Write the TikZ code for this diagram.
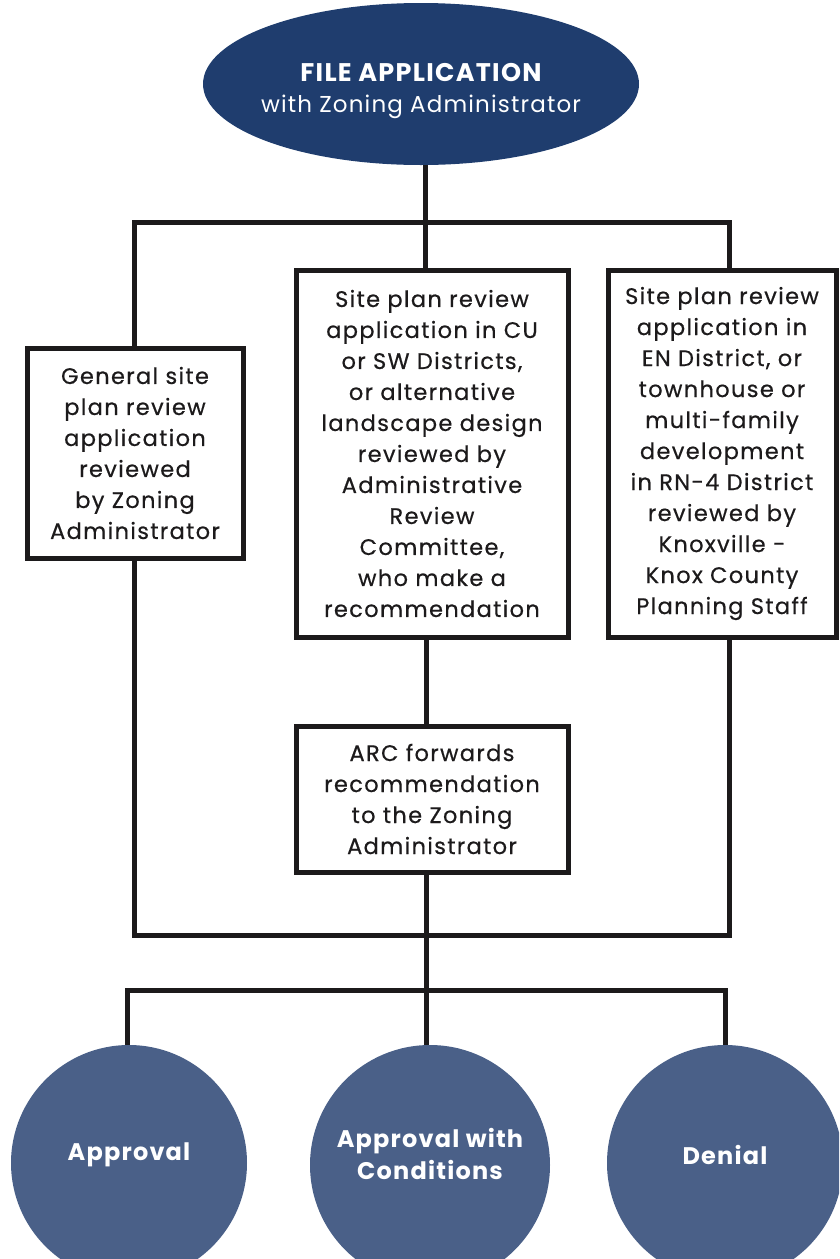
\documentclass[tikz,border=0pt]{standalone}
\usepackage{fontspec}
\setmainfont{Poppins}
\newfontfamily\boxfont{Poppins}[LetterSpace=6,FakeBold=0.5]
\newfontfamily\headfont{Poppins}[LetterSpace=5]
\usetikzlibrary{shapes.geometric,backgrounds}
\definecolor{navy}{RGB}{31,61,110}
\definecolor{slate}{RGB}{74,96,136}
\definecolor{ink}{RGB}{28,26,27}
\begin{document}
\begin{tikzpicture}[x=1pt,y=-1pt,
  conn/.style={line width=5pt, draw=ink, line cap=rect, line join=miter},
  stepbox/.style={draw=ink, line width=5pt, fill=white, align=center, inner sep=0pt, text=ink,
    font=\boxfont\fontsize{22.5}{31}\selectfont},
  topell/.style={ellipse, fill=navy, draw=none, align=center, text=white, inner ysep=0pt, inner xsep=-14pt,
    minimum width=436pt, minimum height=162pt, font=\headfont\fontsize{23}{31}\selectfont},
  outcome/.style={circle, fill=slate, draw=none, align=center, text=white, inner sep=0pt,
    font=\headfont\fontsize{24}{32}\selectfont\bfseries}]
\useasboundingbox (0,0) rectangle (839,1259);
\clip (0,0) rectangle (839,1259);

\node[topell, text height=60pt, text depth=4pt] (file) at (421,84) {{\fontsize{25.5}{31}\selectfont\bfseries FILE APPLICATION}\\with Zoning Administrator};

\node[stepbox, minimum width=216pt, minimum height=210pt] (gen) at (135,453)
  {General site\\plan review\\application\\reviewed\\by Zoning\\Administrator};
\node[stepbox, minimum width=272pt, minimum height=367pt] (site) at (432,453.5)
  {Site plan review\\application in CU\\or SW Districts,\\or alternative\\landscape design\\reviewed by\\Administrative\\Review\\Committee,\\who make a\\recommendation};
\node[stepbox, minimum width=228pt, minimum height=367pt] (en) at (722,453.5)
  {Site plan review\\application in\\EN District, or\\townhouse or\\multi-family\\development\\in RN-4 District\\reviewed by\\Knoxville -\\Knox County\\Planning Staff};
\node[stepbox, minimum width=272pt, minimum height=146pt] (arc) at (432,799)
  {ARC forwards\\recommendation\\to the Zoning\\Administrator};

\node[outcome, minimum size=236pt, text depth=22pt] (appr) at (129,1163) {Approval};
\node[outcome, minimum size=240pt, text depth=22pt] (cond) at (430,1165) {Approval with\\Conditions};
\node[outcome, minimum size=236pt, text depth=16pt] (deny) at (725,1163) {Denial};

\coordinate (j1) at (425,222);
\coordinate (jl) at (134,222);
\coordinate (jr) at (729,222);
\coordinate (kl) at (134,935);
\coordinate (kr) at (729,935);
\coordinate (kc) at (426,935);
\coordinate (mc) at (426,990);
\coordinate (ml) at (127,990);
\coordinate (mr) at (725,990);

\begin{pgfonlayer}{background}
\draw[conn] (file.south -| j1) -- (j1);
\draw[conn] (jl |- gen.north) -- (jl) -- (jr) -- (jr |- en.north);
\draw[conn] (j1) -- (j1 |- site.north);
\draw[conn] (gen.south -| kl) -- (kl) -- (kr) -- (en.south -| kr);
\draw[conn] (site.south -| kc) -- (arc.north -| kc);
\draw[conn] (arc.south -| kc) -- (mc);
\draw[conn] (ml |- appr.north) -- (ml) -- (mr) -- (mr |- deny.north);
\draw[conn] (mc) -- (mc |- cond.north);
\end{pgfonlayer}
\end{tikzpicture}
\end{document}
